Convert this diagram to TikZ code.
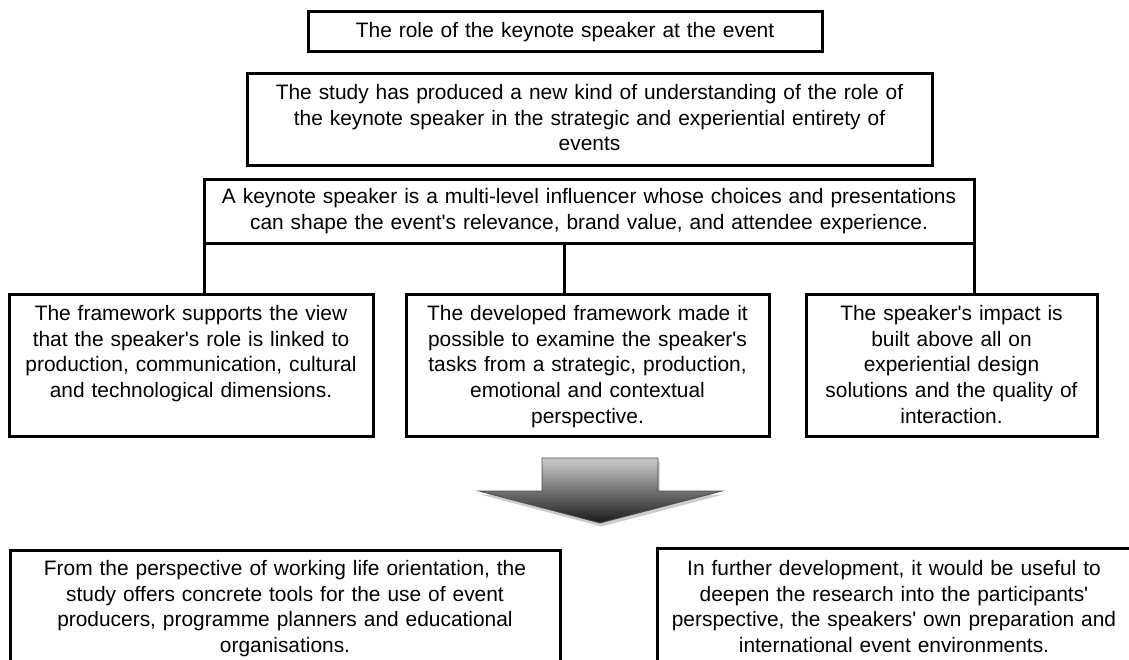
\documentclass[tikz,border=0pt]{standalone}
\usepackage{fontspec}
\newfontfamily\boxfont{Liberation Sans}
\usetikzlibrary{shadows}

\begin{document}
\begin{tikzpicture}[x=1pt, y=-1pt,
  box/.style={draw, line width=3pt, inner sep=0pt, outer sep=0pt, anchor=north,
    align=center, font=\boxfont\fontsize{20.9}{25.7}\selectfont},
  link/.style={line width=3pt}]
\useasboundingbox (0,0) rectangle (1129,660);
\clip (0,0) rectangle (1129,660);

\node [box, text width=514pt, text height=25.5pt, text depth=14.5pt] (role) at (565,12)
  {The role of the keynote speaker at the event};
\node [box, text width=685pt, text height=25.5pt, text depth=66.5pt] (study) at (589.5,74)
  {The study has produced a new kind of understanding of the role of\\the keynote speaker in the strategic and experiential entirety of\\events};
\node [box, text width=770pt, text height=23.5pt, text depth=40.5pt] (influencer) at (589,180)
  {A keynote speaker is a multi-level influencer whose choices and presentations\\can shape the event's relevance, brand value, and attendee experience.};

\node [box, text width=364pt, text height=26.5pt, text depth=115.5pt] (framework) at (191,294)
  {The framework supports the view\\that the speaker's role is linked to\\production, communication, cultural\\and technological dimensions.};
\node [box, text width=363pt, text height=26.5pt, text depth=115.5pt] (developed) at (587.5,294)
  {The developed framework made it\\possible to examine the speaker's\\tasks from a strategic, production,\\emotional and contextual\\perspective.};
\node [box, text width=291pt, text height=26.5pt, text depth=115.5pt] (impact) at (951.5,294)
  {The speaker's impact is\\built above all on\\experiential design\\solutions and the quality of\\interaction.};

\draw [link] (influencer.south west) -- (influencer.south west |- framework.north);
\draw [link] ([xshift=-25pt]influencer.south) -- ([xshift=-25pt]influencer.south |- developed.north);
\draw [link] (influencer.south east) -- (influencer.south east |- impact.north);

\draw [draw=black!70, line width=0.8pt, top color=black!20, bottom color=black!90,
  drop shadow={opacity=0.4, shadow xshift=1.5pt, shadow yshift=-3.5pt}]
  (542,458) -- (658,458) -- (658,491) -- (722,491) -- (600,523) -- (479,491) -- (542,491) -- cycle;

\node [box, text width=550pt, text height=25.5pt, text depth=150pt] (working) at (285,550)
  {From the perspective of working life orientation, the\\study offers concrete tools for the use of event\\producers, programme planners and educational\\organisations.};
\node [box, draw=none, text width=474pt, text height=27.5pt, text depth=150pt] (further) at (894,548)
  {In further development, it would be useful to\\deepen the research into the participants'\\perspective, the speakers' own preparation and\\international event environments.};
\draw [link] (further.south west) -- (further.north west) -- ([xshift=40pt]further.north east);
\end{tikzpicture}
\end{document}
